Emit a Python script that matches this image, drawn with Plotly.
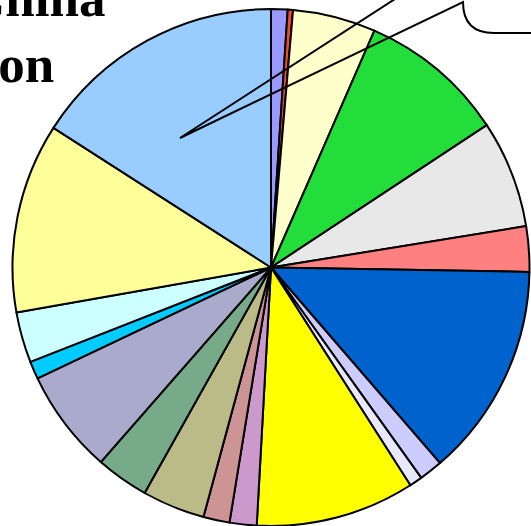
import plotly.graph_objects as go

W, H = 531, 526

labels = ["Category 1", "Category 2", "Category 3", "Category 4", "Category 5",
          "Category 6", "Category 7", "Category 8", "Category 9", "Category 10",
          "Category 11", "Category 12", "Category 13", "Category 14", "Category 15",
          "Category 16", "Category 17", "Category 18", "Category 19"]
values = [1.03, 0.33, 5.19, 9.17, 6.72, 2.83, 13.39, 1.47, 0.81, 9.94,
          1.69, 1.64, 3.92, 3.31, 6.50, 1.11, 3.17, 11.86, 15.92]
colors = ["#9999FF", "#F04A30", "#FFFFCC", "#22DD3A", "#E8E8E8", "#FF8080",
          "#0062CC", "#CCCCFF", "#E8E8FF", "#FFFF00", "#CC99CC", "#CC9494",
          "#BBBB88", "#77AA88", "#AAAACC", "#00CCFF", "#CCFFFF", "#FFFF99",
          "#99CCFF"]

title_line1 = "Population of China"
title_line2 = "by Region"


def px(x):
    return x / W


def py(y):
    return 1 - y / H


fig = go.Figure(go.Pie(
    labels=labels,
    values=values,
    sort=False,
    direction="clockwise",
    rotation=0,
    marker=dict(colors=colors, line=dict(color="black", width=2)),
    textinfo="none",
    hoverinfo="label+percent",
    domain=dict(x=[px(12), px(530)], y=[0, py(9)]),
    showlegend=False,
))

# callout bubble with pointer
path = (f"M {px(463)},{py(-45)} L {px(180)},{py(138)} L {px(463)},{py(2)} "
        f"Q {px(463)},{py(33)} {px(494)},{py(33)} L {px(560)},{py(33)}")
fig.add_shape(type="path", path=path, xref="paper", yref="paper",
              line=dict(color="black", width=2), fillcolor="rgba(0,0,0,0)")

title_font = dict(family="Liberation Serif", size=53, color="black")
fig.add_annotation(text=f"<b>{title_line1}</b>", x=px(108), y=py(-2),
                   xref="paper", yref="paper", xanchor="right", yanchor="middle",
                   showarrow=False, font=title_font)
fig.add_annotation(text=f"<b>{title_line2}</b>", x=px(56), y=py(64),
                   xref="paper", yref="paper", xanchor="right", yanchor="middle",
                   showarrow=False, font=title_font)

fig.update_layout(width=W, height=H, margin=dict(l=0, r=0, t=0, b=0),
                  paper_bgcolor="white", plot_bgcolor="white")

fig.write_html("out.html",
               config={"displayModeBar": False},
               post_script="document.body.style.margin='0';"
                           "document.body.style.overflow='hidden';")
